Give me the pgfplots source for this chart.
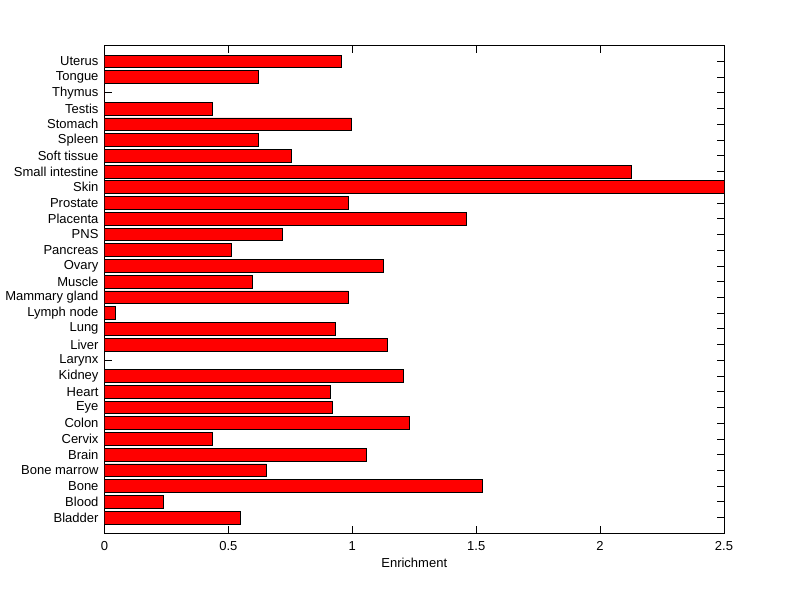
\documentclass[border=0pt]{standalone}
\usepackage{fontspec}
\setmainfont{Liberation Sans}
\usepackage{pgfplots}
\pgfplotsset{compat=1.18}
\begin{document}
\fontsize{13bp}{15bp}\selectfont
\begin{tikzpicture}
  \useasboundingbox (0,0) rectangle (800bp,599bp);
  \begin{axis}[
    xbar,
    bar width=12.8bp,
    at={(104.5bp,65.7bp)},
    anchor=south west,
    scale only axis,
    width=619.5bp,
    height=487.6bp,
    xmin=0, xmax=2.5,
    ymin=0, ymax=31,
    xtick={0,0.5,...,2.5},
    ytick={1,...,30},
    yticklabels={Bladder,Blood,Bone,Bone marrow,Brain,Cervix,Colon,Eye,Heart,Kidney,Larynx,Liver,Lung,Lymph node,Mammary gland,Muscle,Ovary,Pancreas,PNS,Placenta,Prostate,Skin,Small intestine,Soft tissue,Spleen,Stomach,Testis,Thymus,Tongue,Uterus},
    xtick align=inside,
    ytick align=inside,
    major tick length=7bp,
    tick style={black, line width=0.8bp},
    axis line style={line width=0.8bp},
    xticklabel style={yshift=-4bp},
    yticklabel style={xshift=-1.5bp},
    /pgf/number format/assume math mode=true,
    xlabel={Enrichment},
    xlabel style={yshift=2bp},
    clip=true,
  ]
    \addplot[fill=red, draw=black, line width=0.8bp] coordinates {
      (0.548,1) (0.237,2) (1.524,3) (0.653,4) (1.056,5)
      (0.435,6) (1.229,7) (0.919,8) (0.911,9) (1.205,10)
      (0,11) (1.140,12) (0.931,13) (0.044,14) (0.983,15)
      (0.596,16) (1.126,17) (0.511,18) (0.718,19) (1.460,20)
      (0.983,21) (2.5,22) (2.126,23) (0.755,24) (0.622,25)
      (0.997,26) (0.435,27) (0,28) (0.622,29) (0.956,30)
    };
  \end{axis}
\end{tikzpicture}
\end{document}
